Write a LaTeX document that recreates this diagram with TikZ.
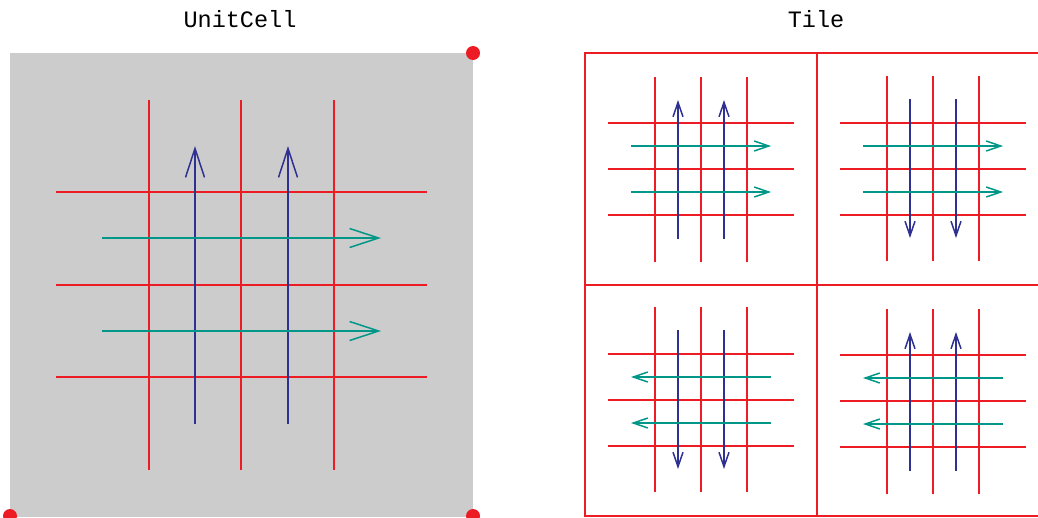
\documentclass[tikz,border=0pt]{standalone}
\usepackage{fontspec}
\setmonofont{Liberation Mono}
\usetikzlibrary{arrows.meta}
\definecolor{cred}{RGB}{237,28,36}
\definecolor{cblue}{RGB}{46,49,146}
\definecolor{cteal}{RGB}{0,150,136}
\definecolor{cgray}{RGB}{204,204,204}
\tikzset{
  gridline/.style={cred, line width=1.5pt},
  vecblue/.style={cblue, line width=1.5pt},
  vecteal/.style={cteal, line width=1.5pt},
  bigtip/.style={-{Straight Barb[length=29pt,width=19pt,line width=1.5pt]}},
  smalltip/.style={-{Straight Barb[length=14.5pt,width=10pt,line width=1.5pt]}},
  title/.style={font=\ttfamily\fontsize{23.5}{26}\selectfont, anchor=base},
  corner/.style={circle, fill=cred, minimum size=14pt, inner sep=0pt}
}
% unit cell content in local coordinates 0..463 scaled by #2 and rounded, #1 = tip style
\newcommand{\cellcontent}[2]{%
  \pgfmathsetmacro{\ga}{round(47*#2)}\pgfmathsetmacro{\gb}{round(417*#2)}
  \pgfmathsetmacro{\gc}{round(46*#2)}
  \pgfmathsetmacro{\aa}{round(93*#2)}\pgfmathsetmacro{\ab}{round(371*#2)}
  \pgfmathsetmacro{\ac}{round(92*#2)}
  \foreach \v [evaluate=\v as \w using round(\v*#2)] in {139,231,324} {\draw[gridline] (\w,\ga) -- (\w,\gb);}
  \foreach \h [evaluate=\h as \w using round(\h*#2)] in {139,232,324} {\draw[gridline] (\gc,\w) -- (\gb,\w);}
  \foreach \v [evaluate=\v as \w using round(\v*#2)] in {185,278} {\draw[vecblue,#1] (\w,\ab) -- (\w,\aa);}
  \foreach \h [evaluate=\h as \w using round(\h*#2)] in {185,278} {\draw[vecteal,#1] (\ac,\w) -- (\ab,\w);}
}
\begin{document}
\begin{tikzpicture}[x=1pt,y=-1pt]
\useasboundingbox (0,0) rectangle (1038,517);
\clip (0,0) rectangle (1038,517);
% Unit cell
\node[title] (t1) at (240,27) {UnitCell};
\fill[cgray] (10,53) rectangle (473,517);
\begin{scope}[shift={(10,53)}]
  \cellcontent{bigtip}{1}
\end{scope}
\node[corner] (d1) at (473,53) {};
\node[corner] (d2) at (10,516) {};
\node[corner] (d3) at (473,516) {};
% Tile
\node[title] (t2) at (816,27) {Tile};
\begin{scope}[shift={(585,53)}]
  \cellcontent{smalltip}{0.5}
\end{scope}
\begin{scope}[shift={(817,285)}, yscale=-1]
  \cellcontent{smalltip}{0.5}
\end{scope}
\begin{scope}[shift={(817,516)}, xscale=-1, yscale=-1]
  \cellcontent{smalltip}{0.5}
\end{scope}
\begin{scope}[shift={(1049,285)}, xscale=-1]
  \cellcontent{smalltip}{0.5}
\end{scope}
\draw[gridline] (585,53) rectangle (1048,516);
\draw[gridline] (817,53) -- (817,516);
\draw[gridline] (585,285) -- (1048,285);
\end{tikzpicture}
\end{document}
